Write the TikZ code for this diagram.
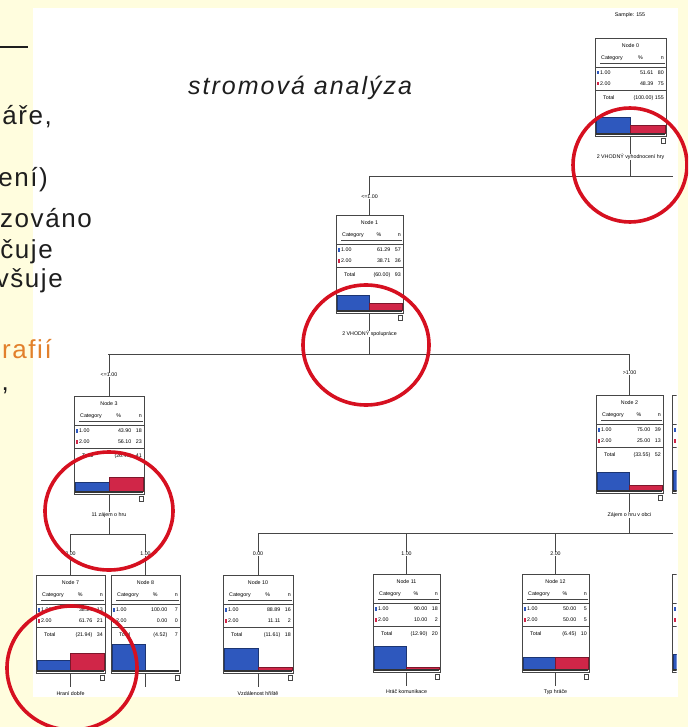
\documentclass[tikz,border=0pt]{standalone}
\usepackage{fontspec}
\setmainfont{Liberation Sans}
\newfontfamily\slidefont[LetterSpace=6]{Liberation Sans}
\newfontfamily\capfont[LetterSpace=8]{Liberation Sans}
\newfontfamily\treefont{Liberation Sans}
\usetikzlibrary{calc}

\definecolor{slidebg}{RGB}{255,253,222}
\definecolor{barblue}{RGB}{46,88,190}
\definecolor{barred}{RGB}{208,38,72}
\definecolor{ringred}{RGB}{214,16,32}
\definecolor{accent}{RGB}{226,128,44}
\definecolor{treeline}{RGB}{70,70,70}
\definecolor{slidetext}{RGB}{30,30,30}

\tikzset{
  treebox/.style={draw=treeline, line width=0.8pt, fill=white, rectangle,
    minimum height=98pt, inner sep=0pt, outer sep=0pt},
  ttext/.style={font=\treefont\fontsize{5.3}{6}\selectfont, inner sep=0pt, text=black},
  conn/.style={draw=treeline, line width=0.9pt},
  elab/.style={ttext, fill=white, inner sep=0.6pt},
  blab/.style={ttext, fill=white, inner sep=0.6pt},
  ring/.style={draw=ringred, line width=3.6pt},
  bblue/.style={fill=barblue, draw=barblue!60!black, line width=0.5pt},
  bred/.style={fill=barred, draw=barred!60!black, line width=0.5pt},
  slidetxt/.style={font=\slidefont\fontsize{26}{30}\selectfont, text=slidetext,
    inner sep=0pt, anchor=base east},
}

% box frame with title and header row: name, left, top, width, title
\newcommand\TreeBox[5]{%
  \node[treebox, minimum width=#4 pt] (#1) at ({#2+#4/2},{#3+49}) {};
  \begin{scope}[shift={(#1.north west)}]
    \node[ttext] at ({#4/2},8) {#5};
    \node[ttext, anchor=west] at (6,20) {Category};
    \node[ttext] at ({#4*0.64},20) {\%};
    \node[ttext, anchor=east] at ({#4-2},20) {n};
    \draw[treeline, line width=0.4pt] (5,25) -- ({#4-1},25);
    \draw[treeline, line width=0.7pt] (0,29) -- (#4,29);
    \draw[treeline, line width=0.7pt] (0,52) -- (#4,52);
  \end{scope}}

% category rows: name, width, pct1, n1, pct2, n2, pct total, n total
\newcommand\TreeRows[8]{%
  \begin{scope}[shift={(#1.north west)}]
    \fill[barblue] (1.5,33) rectangle (4,36.5);
    \node[ttext, anchor=west] at (5,35) {1.00};
    \node[ttext, anchor=east] at ({#2-12.5},35) {#3};
    \node[ttext, anchor=east] at ({#2-2},35) {#4};
    \fill[barred] (1.5,44) rectangle (4,47.5);
    \node[ttext, anchor=west] at (5,46) {2.00};
    \node[ttext, anchor=east] at ({#2-12.5},46) {#5};
    \node[ttext, anchor=east] at ({#2-2},46) {#6};
    \node[ttext, anchor=west] at (8,60) {Total};
    \node[ttext, anchor=east] at ({#2-12.5},60) {(#7)};
    \node[ttext, anchor=east] at ({#2-2},60) {#8};
  \end{scope}}

% histogram: name, width, blue top, red top
\newcommand\TreeBars[4]{%
  \begin{scope}[shift={(#1.north west)}]
    \path[bblue] (1,#3) rectangle ({#2/2},95);
    \path[bred] ({#2/2},#4) rectangle ({#2-1},95);
    \draw[black!80, line width=1.6pt] (0.8,96) -- ({#2-0.8},96);
    \draw[treeline, line width=0.5pt] ({#2-5},100) rectangle ({#2-1},105);
  \end{scope}}

\begin{document}
\begin{tikzpicture}[x=1pt,y=-1pt]
  \useasboundingbox (0,0) rectangle (688,727);
  \clip (0,0) rectangle (688,727);
  \fill[slidebg] (0,0) rectangle (688,727);
  \fill[white] (33,8) rectangle (678,697);

  % caption
  \node[font=\capfont\itshape\fontsize{25}{30}\selectfont, anchor=base west,
    inner sep=0pt, text=slidetext] (cap) at (188,95) {stromová analýza};

  % slide text running in from the left
  \draw[slidetext, line width=1.5pt] (0,47) -- (28,47);
  \node[slidetxt] (t1) at (52,125) {áře,};
  \node[slidetxt] (t2) at (48,187) {ení)};
  \node[slidetxt] (t3) at (92,227) {zováno};
  \node[slidetxt] (t4) at (53,258) {čuje};
  \node[slidetxt] (t5) at (63,287) {všuje};
  \node[slidetxt, text=accent] (t6) at (52,358) {rafií};
  \node[slidetxt] (t7) at (9,390) {,};

  % ---- tree ----
  \node[ttext] (hdr) at (630,15) {Sample: 155};

  \TreeBox{n0}{595}{38}{71}{Node 0}
  \TreeRows{n0}{71}{51.61}{80}{48.39}{75}{100.00}{155}
  \TreeBars{n0}{71}{79}{87}

  \TreeBox{n1}{336}{215}{67}{Node 1}
  \TreeRows{n1}{67}{61.29}{57}{38.71}{36}{60.00}{93}
  \TreeBars{n1}{67}{80}{88}

  \TreeBox{n3}{74}{396}{70}{Node 3}
  \TreeRows{n3}{70}{43.90}{18}{56.10}{23}{26.45}{41}
  \TreeBars{n3}{70}{86}{81}

  \TreeBox{n2}{596}{395}{67}{Node 2}
  \TreeRows{n2}{67}{75.00}{39}{25.00}{13}{33.55}{52}
  \TreeBars{n2}{67}{77}{90}

  \TreeBox{n7}{36}{575}{69}{Node 7}
  \TreeRows{n7}{69}{38.24}{13}{61.76}{21}{21.94}{34}
  \TreeBars{n7}{69}{85}{78}

  \TreeBox{n8}{111}{575}{69}{Node 8}
  \TreeRows{n8}{69}{100.00}{7}{0.00}{0}{4.52}{7}
  \TreeBars{n8}{69}{69}{95}

  \TreeBox{n10}{223}{575}{70}{Node 10}
  \TreeRows{n10}{70}{88.89}{16}{11.11}{2}{11.61}{18}
  \TreeBars{n10}{70}{73}{92}

  \TreeBox{n11}{373}{574}{67}{Node 11}
  \TreeRows{n11}{67}{90.00}{18}{10.00}{2}{12.90}{20}
  \TreeBars{n11}{67}{72}{93}

  \TreeBox{n12}{522}{574}{67}{Node 12}
  \TreeRows{n12}{67}{50.00}{5}{50.00}{5}{6.45}{10}
  \TreeBars{n12}{67}{83}{83}

  % nodes running off the right edge
  \begin{scope}
    \clip (0,0) rectangle (676.5,727);
    \TreeBox{n5}{672}{395}{67}{Node 5}
    \TreeRows{n5}{67}{70.00}{7}{30.00}{3}{6.45}{10}
    \TreeBars{n5}{67}{75}{88}
    \TreeBox{n13}{672}{574}{67}{Node 13}
    \TreeRows{n13}{67}{60.00}{3}{40.00}{2}{3.23}{5}
    \TreeBars{n13}{67}{80}{86}
  \end{scope}

  % split buses
  \coordinate (bus0L) at (369,176);  \coordinate (bus0R) at (673,176);
  \coordinate (bus1L) at (108,354);  \coordinate (bus1R) at (630,354);
  \coordinate (bus3L) at (70.5,534); \coordinate (bus3R) at (145.5,534);
  \coordinate (bus2L) at (258,533);  \coordinate (bus2R) at (673,533);

  \draw[conn] (n0.south) -- (n0.south |- bus0L);
  \draw[conn] (bus0L) -- (bus0R);
  \draw[conn] (n1.north |- bus0L) -- (n1.north);

  \draw[conn] (n1.south) -- (n1.south |- bus1L);
  \draw[conn] (bus1L) -- (bus1R);
  \draw[conn] (n3.north |- bus1L) -- (n3.north);
  \draw[conn] (n2.north |- bus1L) -- (n2.north);

  \draw[conn] (n3.south) -- (n3.south |- bus3L);
  \draw[conn] (bus3L) -- (bus3R);
  \draw[conn] (n7.north |- bus3L) -- (n7.north);
  \draw[conn] (n8.north |- bus3L) -- (n8.north);

  \draw[conn] (n2.south) -- (n2.south |- bus2L);
  \draw[conn] (bus2L) -- (bus2R);
  \draw[conn] (n10.north |- bus2L) -- (n10.north);
  \draw[conn] (n11.north |- bus2L) -- (n11.north);
  \draw[conn] (n12.north |- bus2L) -- (n12.north);

  \draw[conn] (n7.south) -- ++(0,14);
  \draw[conn] (n8.south) -- ++(0,14);
  \draw[conn] (n10.south) -- ++(0,14);
  \draw[conn] (n11.south) -- ++(0,14);
  \draw[conn] (n12.south) -- ++(0,14);

  % split variable labels
  \node[blab] (l0) at ($(n0.south)+(0,21)$) {2 VHODNÝ vyhodnocení hry};
  \node[blab] (l1) at ($(n1.south)+(0,21)$) {2 VHODNÝ spolupráce};
  \node[blab] (l3) at ($(n3.south)+(0,21)$) {11 zájem o hru};
  \node[blab] (l2) at ($(n2.south)+(0,22)$) {Zájem o hru v obci};
  \node[blab] (l7) at ($(n7.south)+(0,21)$) {Hraní dobře};
  \node[blab] (l10) at ($(n10.south)+(0,21)$) {Vzdálenost hřiště};
  \node[blab] (l11) at ($(n11.south)+(0,20)$) {Hráč komunikace};
  \node[blab] (l12) at ($(n12.south)+(0,20)$) {Typ hráče};

  % branch conditions
  \node[elab] (e1) at ($(n1.north)+(0,-18)$) {<=1.00};
  \node[elab] (e3) at ($(n3.north)+(0,-21)$) {<=1.00};
  \node[elab] (e2) at ($(n2.north)+(0,-22)$) {>1.00};
  \node[elab] (e7) at ($(n7.north)+(0,-21)$) {0.00};
  \node[elab] (e8) at ($(n8.north)+(0,-21)$) {1.00};
  \node[elab] (e10) at ($(n10.north)+(0,-21)$) {0.00};
  \node[elab] (e11) at ($(n11.north)+(0,-20)$) {1.00};
  \node[elab] (e12) at ($(n12.north)+(0,-20)$) {2.00};

  % highlight rings
  \draw[ring] (630,165) ellipse [x radius=57pt, y radius=57pt];
  \draw[ring] (366,345) ellipse [x radius=63pt, y radius=60pt];
  \draw[ring] (109,511) ellipse [x radius=64pt, y radius=59pt];
  \draw[ring] (72,668) ellipse [x radius=65pt, y radius=62pt];
\end{tikzpicture}
\end{document}
